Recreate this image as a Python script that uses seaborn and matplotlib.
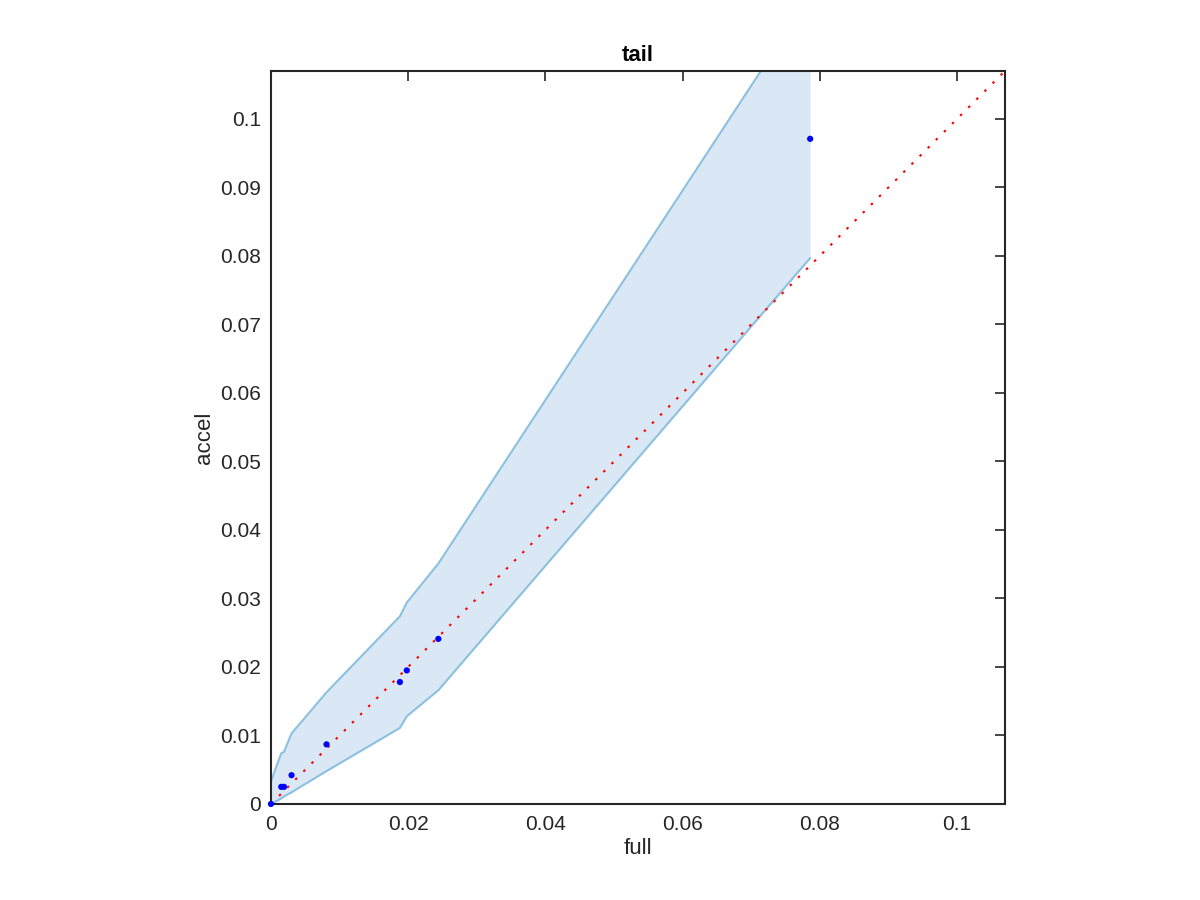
import numpy as np
import pandas as pd
import seaborn as sns
import matplotlib.pyplot as plt

# points (full vs accel)
full = [0.0, 0.0015, 0.0019, 0.0030, 0.0081, 0.0188, 0.0198, 0.0244, 0.0786]
accel = [0.0, 0.0025, 0.0025, 0.0042, 0.0087, 0.0178, 0.0195, 0.0241, 0.0971]
# band edges at the same x
upper = [0.0033, 0.0074, 0.0076, 0.0103, 0.0163, 0.0274, 0.0294, 0.0351, 0.1180]
lower = [0.0, 0.0008, 0.0011, 0.0017, 0.0048, 0.0111, 0.0128, 0.0166, 0.0797]

lim = 0.107
xticks = [0, 0.02, 0.04, 0.06, 0.08, 0.1]
xticklabels = ["0", "0.02", "0.04", "0.06", "0.08", "0.1"]
yticks = [0, 0.01, 0.02, 0.03, 0.04, 0.05, 0.06, 0.07, 0.08, 0.09, 0.1]
yticklabels = ["0", "0.01", "0.02", "0.03", "0.04", "0.05", "0.06", "0.07", "0.08", "0.09", "0.1"]

sns.set_style("white")
plt.rcParams['font.family'] = ['Liberation Sans', 'DejaVu Sans']

df = pd.DataFrame({"full": full, "accel": accel, "upper": upper, "lower": lower})

fig = plt.figure(figsize=(12, 9), dpi=100)
ax = fig.add_axes([0.2258, 0.1067, 0.6117, 0.8144])

band_fill = "#d9e8f4"
band_line = "#8cc0e0"
ax.fill_between(df["full"], df["lower"], df["upper"], color=band_fill, linewidth=0)
sns.lineplot(data=df, x="full", y="upper", color=band_line, linewidth=1.5, ax=ax, sort=False)
sns.lineplot(data=df, x="full", y="lower", color=band_line, linewidth=1.5, ax=ax, sort=False)

# y = x reference
diag = pd.DataFrame({"x": [0, lim], "y": [0, lim]})
sns.lineplot(data=diag, x="x", y="y", color="red", linestyle=(0, (1.2, 4.3)), linewidth=1.5, ax=ax)

sns.scatterplot(data=df, x="full", y="accel", color="blue", s=20, edgecolor="none", ax=ax, zorder=5, clip_on=False)

ax.set_xlim(0, lim)
ax.set_ylim(0, lim)
ax.set_xticks(xticks)
ax.set_xticklabels(xticklabels)
ax.set_yticks(yticks)
ax.set_yticklabels(yticklabels)
ax.tick_params(direction="in", length=7, width=1.2, top=True, right=True,
               labelsize=15, colors="#262626")
ax.tick_params(axis="x", pad=8)
ax.tick_params(axis="y", pad=7)
for s in ax.spines.values():
    s.set_color("#262626")
    s.set_linewidth(1.5)
    s.set_visible(True)

ax.set_title("tail", fontsize=16, fontweight="bold", color="black", pad=7)
ax.set_xlabel("full", fontsize=16, color="#262626", labelpad=3)
ax.set_ylabel("accel", fontsize=16, color="#262626", labelpad=4)

plt.savefig("out.png", dpi=100)
